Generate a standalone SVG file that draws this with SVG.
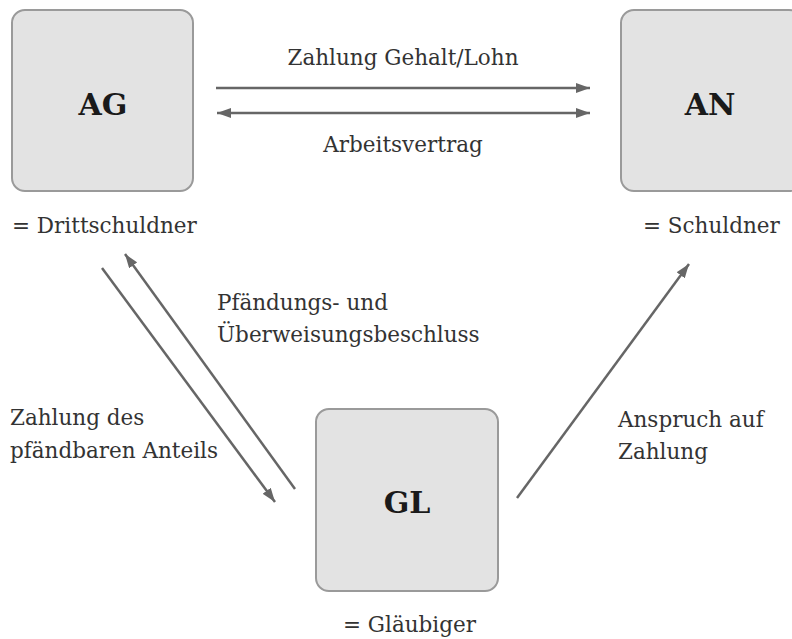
<svg xmlns="http://www.w3.org/2000/svg" width="792" height="639" viewBox="0 0 792 639">
<defs>
<style>
.box{fill:#e3e3e3;stroke:#9a9a9a;stroke-width:2}
.lbl{font-family:"DejaVu Serif","Liberation Serif",serif;font-weight:bold;font-size:30px;fill:#1a1a1a;text-anchor:middle}
.t{font-family:"DejaVu Serif","Liberation Serif",serif;font-size:21.5px;fill:#333}
.c{stroke:#666;stroke-width:2.5;fill:none}
</style>
<marker id="ah" viewBox="0 0 14 10" refX="14" refY="5" markerWidth="14" markerHeight="10" markerUnits="userSpaceOnUse" orient="auto-start-reverse">
<path d="M0,0 L14,5 L0,10 z" fill="#666"/>
</marker>
</defs>
<rect width="792" height="639" fill="#fff"/>
<g id="AG">
<rect class="box" x="12" y="10" width="181" height="181" rx="13"/>
<text class="lbl" x="103" y="115">AG</text>
<text class="t" x="12" y="233">= Drittschuldner</text>
</g>
<g id="AN">
<rect class="box" x="621" y="10" width="181" height="181" rx="13"/>
<text class="lbl" x="710" y="115">AN</text>
<text class="t" x="643" y="233">= Schuldner</text>
</g>
<g id="GL">
<rect class="box" x="316" y="409" width="182" height="182" rx="13"/>
<text class="lbl" x="407" y="513">GL</text>
<text class="t" x="343" y="632">= Gläubiger</text>
</g>
<g id="connectors">
<line class="c" x1="216" y1="88" x2="590" y2="88" marker-end="url(#ah)"/>
<line class="c" x1="217" y1="113" x2="590" y2="113" marker-start="url(#ah)" marker-end="url(#ah)"/>
<line class="c" x1="102" y1="268" x2="275" y2="502" marker-end="url(#ah)"/>
<line class="c" x1="295" y1="489" x2="125" y2="254" marker-end="url(#ah)"/>
<line class="c" x1="517" y1="498" x2="689" y2="264" marker-end="url(#ah)"/>
</g>
<g id="labels">
<text class="t" x="403" y="65" text-anchor="middle">Zahlung Gehalt/Lohn</text>
<text class="t" x="403" y="152" text-anchor="middle">Arbeitsvertrag</text>
<text class="t" x="217" y="310">Pfändungs- und</text>
<text class="t" x="217" y="342">Überweisungsbeschluss</text>
<text class="t" x="10" y="425">Zahlung des</text>
<text class="t" x="10" y="458">pfändbaren Anteils</text>
<text class="t" x="618" y="427">Anspruch auf</text>
<text class="t" x="618" y="459">Zahlung</text>
</g>
</svg>
